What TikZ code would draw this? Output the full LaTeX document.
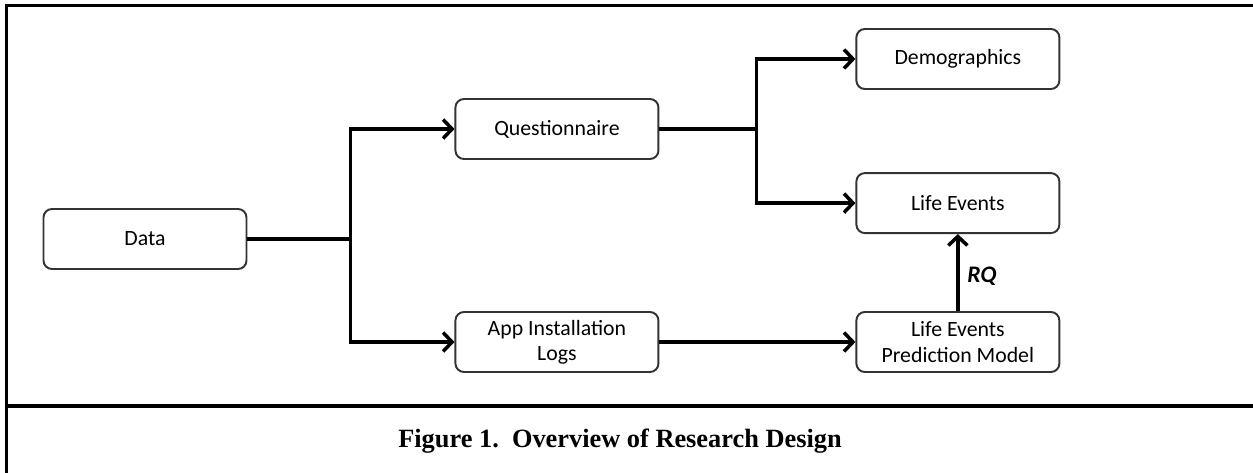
\documentclass[tikz,border=0pt]{standalone}
\usepackage{fontspec}
\setmainfont{Carlito}
\newfontfamily\captionfont{Liberation Serif}
\usetikzlibrary{arrows.meta, positioning}

\begin{document}
\begin{tikzpicture}
\tikzstyle{stage} = [rectangle, draw=black!80, line width=1.1pt, fill=white, minimum width=4.06cm, minimum height=1.2cm, align=center, rounded corners=0.17cm, font=\fontsize{12.4}{14.4}\selectfont]
\tikzstyle{wire} = [line width=2pt]
\tikzstyle{link} = [wire, -{Straight Barb[length=1.8mm,width=3.8mm]}]

\useasboundingbox (-2.9,-4.66) rectangle (22.16,4.78);

% frame of the figure
\draw[wire] (-2.77,-4.7) -- (-2.77,4.67) -- (22.2,4.67);
\draw[wire] (-2.77,-3.34) -- (22.2,-3.34);

\node (data) [stage] {Data};
\node (quest) [stage, right=4.14cm of data, yshift=2.2cm] {Questionnaire};
\node (logs) [stage, right=4.14cm of data, yshift=-2.06cm] {App Installation\\Logs};
\node (demo) [stage, right=3.92cm of quest, yshift=1.4cm] {Demographics};
\node (model) [stage, right=3.92cm of logs] {Life Events\\Prediction Model};
\node (events) [stage, above=1.54cm of model] {Life Events};

\draw[wire] (data.east) -- ++(2.06,0) coordinate (fork1);
\draw[link] (fork1) |- (quest);
\draw[link] (fork1) |- (logs);
\draw[wire] (quest.east) -- ++(1.94,0) coordinate (fork2);
\draw[link] (fork2) |- (demo);
\draw[link] (fork2) |- (events);
\draw[link] (logs) -- (model);
\draw[link] (model) -- (events) node[midway, right=1pt, yshift=-2pt, font=\bfseries\itshape\fontsize{13.5}{15}\selectfont] {RQ};

\node (caption) at (9.5,-4.04) {\captionfont\bfseries\fontsize{15}{17}\selectfont Figure 1.\ \ Overview of Research Design};
\end{tikzpicture}
\end{document}
